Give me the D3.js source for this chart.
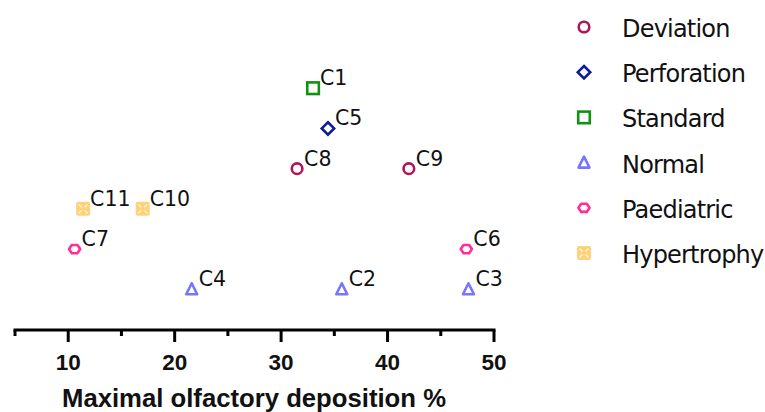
<!DOCTYPE html>
<html>
<head>
<meta charset="utf-8">
<script src="https://cdn.jsdelivr.net/npm/d3@7"></script>
<style>
  html, body { margin: 0; padding: 0; background: #fff; }
  svg { display: block; }
</style>
</head>
<body>
<svg id="chart" width="765" height="412"></svg>
<script>
// ---- data ----
const groups = ["Deviation", "Perforation", "Standard", "Normal", "Paediatric", "Hypertrophy"];
const groupRow = [4, 5, 6, 1, 2, 3];           // vertical row of each group (no y axis shown)
const groupColors = ["#b0155a", "#0d1a9c", "#119111", "#7575ff", "#ff2f97", "#ffd27a"];
const caseLabels = ["C1", "C2", "C3", "C4", "C5", "C6", "C7", "C8", "C9", "C10", "C11"];
const caseGroup  = ["Standard", "Normal", "Normal", "Normal", "Perforation", "Paediatric", "Paediatric", "Deviation", "Deviation", "Hypertrophy", "Hypertrophy"];
const caseValues = [33.0, 35.7, 47.6, 21.6, 34.4, 47.4, 10.6, 31.5, 42.0, 17.0, 11.4];
const xTicks = [10, 20, 30, 40, 50];
const xMinorTicks = [5, 15, 25, 35, 45];
const xTitle = "Maximal olfactory deposition %";

// ---- scales ----
const x = d3.scaleLinear().domain([5, 50]).range([15, 494]);
const y = d3.scaleLinear().domain([0, 7]).range([329.5, 48]);
const color = d3.scaleOrdinal().domain(groups).range(groupColors);
const row = d3.scaleOrdinal().domain(groups).range(groupRow);

const svg = d3.select("#chart");

// ---- axis ----
const axisY = 330;
const gAxis = svg.append("g").attr("transform", `translate(0,${axisY})`);
gAxis.append("line").attr("x1", x(5) - 1.5).attr("x2", x(50) + 1.5)
  .attr("stroke", "#000").attr("stroke-width", 3);
gAxis.selectAll("line.major").data(xTicks).join("line").attr("class", "major")
  .attr("x1", d => x(d)).attr("x2", d => x(d)).attr("y1", 0).attr("y2", 12)
  .attr("stroke", "#000").attr("stroke-width", 3);
gAxis.selectAll("line.minor").data(xMinorTicks).join("line").attr("class", "minor")
  .attr("x1", d => x(d)).attr("x2", d => x(d)).attr("y1", 0).attr("y2", 6)
  .attr("stroke", "#000").attr("stroke-width", 3);
gAxis.selectAll("text").data(xTicks).join("text")
  .attr("x", d => x(d)).attr("y", 39.5)
  .attr("text-anchor", "middle")
  .attr("font-family", "Liberation Sans, Arial, sans-serif")
  .attr("font-weight", "bold").attr("font-size", 22.5)
  .attr("fill", "#111")
  .text(d => d);

svg.append("text")
  .attr("x", 254).attr("y", 406.5)
  .attr("text-anchor", "middle")
  .attr("font-family", "Liberation Sans, Arial, sans-serif")
  .attr("font-weight", "bold").attr("font-size", 25.7)
  .attr("fill", "#111")
  .text(xTitle);

// ---- marker drawing ----
function drawMarker(g, group, cx, cy) {
  const c = color(group);
  const sw = 2.6;
  if (group === "Deviation") {
    g.append("circle").attr("cx", cx).attr("cy", cy).attr("r", 5.3)
      .attr("fill", "none").attr("stroke", c).attr("stroke-width", sw);
  } else if (group === "Perforation") {
    const s = 6.2;
    g.append("path").attr("d", `M${cx},${cy - s}L${cx + s},${cy}L${cx},${cy + s}L${cx - s},${cy}Z`)
      .attr("fill", "none").attr("stroke", c).attr("stroke-width", sw).attr("stroke-linejoin", "miter");
  } else if (group === "Standard") {
    const s = 5.8;
    g.append("rect").attr("x", cx - s).attr("y", cy - s).attr("width", 2 * s).attr("height", 2 * s)
      .attr("fill", "none").attr("stroke", c).attr("stroke-width", sw);
  } else if (group === "Normal") {
    const h = 5.5;
    g.append("path").attr("d", `M${cx},${cy - h - 0.5}L${cx + h},${cy + h - 0.5}L${cx - h},${cy + h - 0.5}Z`)
      .attr("fill", "none").attr("stroke", c).attr("stroke-width", sw).attr("stroke-linejoin", "round");
  } else if (group === "Paediatric") {
    const r = 5.6;
    const pts = d3.range(6).map(i => {
      const a = Math.PI / 3 * i;
      return [cx + r * Math.cos(a), cy + r * 0.85 * Math.sin(a)];
    });
    g.append("path").attr("d", "M" + pts.map(p => p.join(",")).join("L") + "Z")
      .attr("fill", "none").attr("stroke", c).attr("stroke-width", sw).attr("stroke-linejoin", "round");
  } else if (group === "Hypertrophy") {
    const s = 7;
    g.append("rect").attr("x", cx - s).attr("y", cy - s).attr("width", 2 * s).attr("height", 2 * s)
      .attr("rx", 2).attr("fill", c);
    const d = 3.0, e = 1.5;
    g.append("path")
      .attr("d", `M${cx - d - e},${cy - d - e}L${cx - d + e},${cy - d + e}` +
                 `M${cx + d + e},${cy - d - e}L${cx + d - e},${cy - d + e}` +
                 `M${cx - d - e},${cy + d + e}L${cx - d + e},${cy + d - e}` +
                 `M${cx + d + e},${cy + d + e}L${cx + d - e},${cy + d - e}`)
      .attr("stroke", "#fff").attr("stroke-width", 1.3).attr("opacity", 0.85);
  }
}

// ---- points ----
const gPts = svg.append("g");
caseLabels.forEach((lab, i) => {
  const grp = caseGroup[i];
  const cx = x(caseValues[i]);
  const cy = y(row(grp));
  drawMarker(gPts, grp, cx, cy);
  gPts.append("text")
    .attr("x", cx + 7).attr("y", cy - 3)
    .attr("font-family", "DejaVu Sans, sans-serif")
    .attr("font-size", 20.5)
    .attr("fill", "#111")
    .text(lab);
});

// ---- legend ----
const legendY = d3.scaleLinear().domain([0, 5]).range([27, 253]);
const gLeg = svg.append("g");
groups.forEach((grp, i) => {
  const cy = legendY(i);
  drawMarker(gLeg, grp, 584, cy);
  gLeg.append("text")
    .attr("x", 622).attr("y", cy + 10)
    .attr("font-family", "DejaVu Sans, sans-serif")
    .attr("font-size", 24)
    .attr("letter-spacing", -0.8)
    .attr("fill", "#111")
    .text(grp);
});
</script>
</body>
</html>
